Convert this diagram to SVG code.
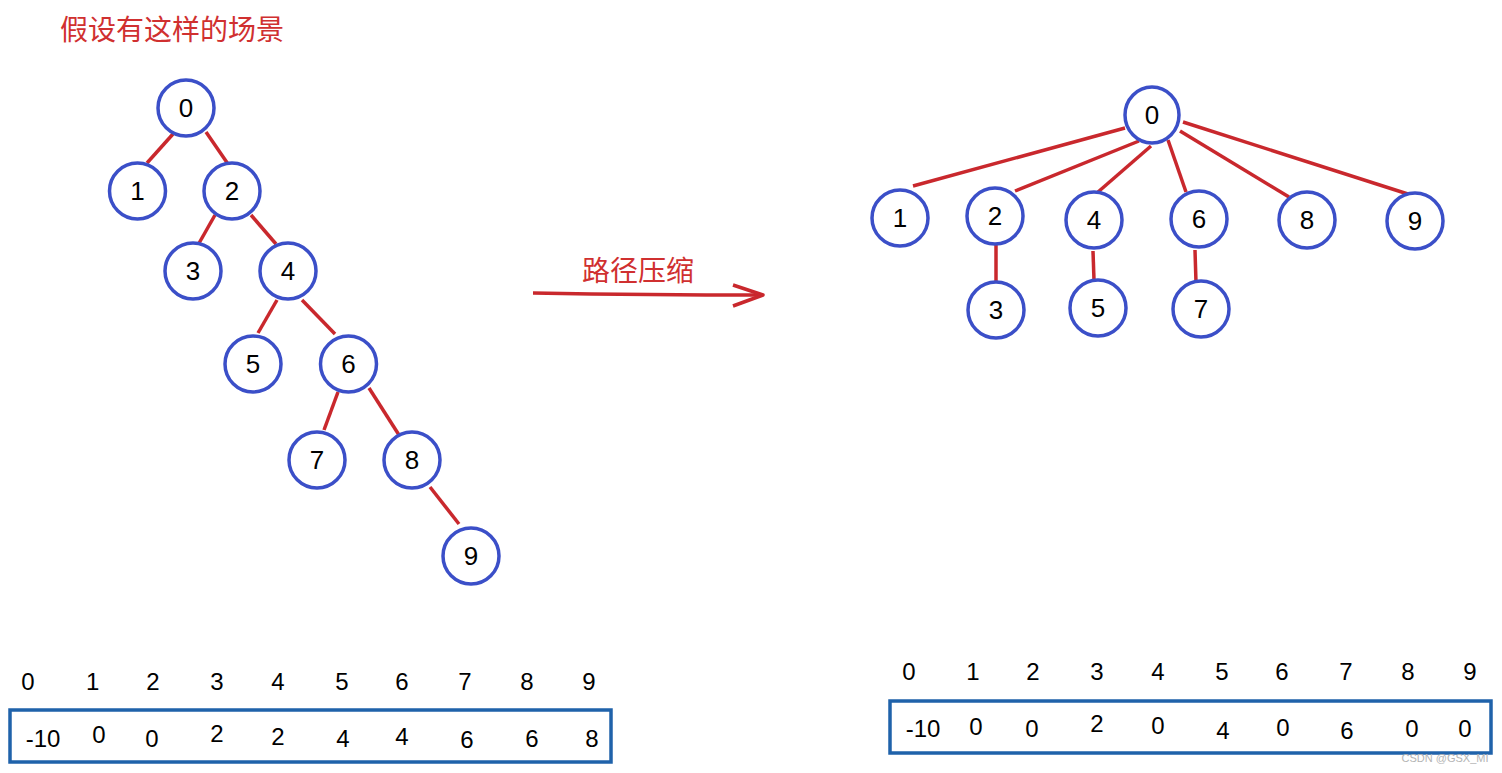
<svg xmlns="http://www.w3.org/2000/svg" width="1502" height="773" viewBox="0 0 1502 773">
<style>
.n{fill:#fff;stroke:#3B4FC8;stroke-width:3.5}
.e{stroke:#C9282D;stroke-width:3.5;stroke-linecap:butt;fill:none}
.t{font-family:"Liberation Sans",Arial,sans-serif;font-size:26px;fill:#000;text-anchor:middle}
.r{font-family:"Liberation Sans",Arial,sans-serif;font-size:24px;fill:#000;text-anchor:middle}
.cn{font-family:"Noto Sans CJK SC","Liberation Sans",sans-serif;font-size:28px;fill:#D03030}
.box{fill:none;stroke:#1F62AA;stroke-width:3.5}
</style>
<rect width="1502" height="773" fill="#fff"/>
<text class="cn" x="60" y="40">假设有这样的场景</text>
<g id="connectors">
<line class="e" x1="173" y1="134" x2="147" y2="163"/>
<line class="e" x1="206" y1="132" x2="228" y2="164"/>
<line class="e" x1="215" y1="215" x2="198" y2="245"/>
<line class="e" x1="251" y1="215" x2="276" y2="244"/>
<line class="e" x1="277" y1="300" x2="258" y2="333"/>
<line class="e" x1="302" y1="300" x2="335" y2="334"/>
<line class="e" x1="338" y1="392" x2="324" y2="430"/>
<line class="e" x1="369" y1="388" x2="399" y2="435"/>
<line class="e" x1="430" y1="487" x2="459" y2="524"/>
<line class="e" x1="1125" y1="128" x2="913" y2="186"/>
<line class="e" x1="1139" y1="141" x2="1015" y2="191"/>
<line class="e" x1="1151" y1="146" x2="1098" y2="192"/>
<line class="e" x1="1168" y1="140" x2="1186" y2="192"/>
<line class="e" x1="1180" y1="131" x2="1289" y2="197"/>
<line class="e" x1="1183" y1="122" x2="1411" y2="195"/>
<line class="e" x1="996" y1="242" x2="996" y2="281"/>
<line class="e" x1="1093" y1="251" x2="1094" y2="280"/>
<line class="e" x1="1195" y1="250" x2="1196" y2="282"/>
</g>
<g id="arrow">
<path class="e" d="M533 293 Q650 295 763 295"/>
<path class="e" d="M733 285 L763 295 L733 306" stroke-linejoin="round" stroke-linecap="round"/>
<text class="cn" x="582" y="281">路径压缩</text>
</g>
<g id="L0"><circle class="n" cx="186" cy="108" r="28"/><text class="t" x="186" y="117">0</text></g>
<g id="L1"><circle class="n" cx="137.5" cy="191" r="28"/><text class="t" x="137.5" y="200">1</text></g>
<g id="L2"><circle class="n" cx="232" cy="191" r="28"/><text class="t" x="232" y="200">2</text></g>
<g id="L3"><circle class="n" cx="193" cy="271" r="28"/><text class="t" x="193" y="280">3</text></g>
<g id="L4"><circle class="n" cx="288" cy="271" r="28"/><text class="t" x="288" y="280">4</text></g>
<g id="L5"><circle class="n" cx="253" cy="364" r="28"/><text class="t" x="253" y="373">5</text></g>
<g id="L6"><circle class="n" cx="348.5" cy="364" r="28"/><text class="t" x="348.5" y="373">6</text></g>
<g id="L7"><circle class="n" cx="317" cy="460" r="28"/><text class="t" x="317" y="469">7</text></g>
<g id="L8"><circle class="n" cx="412" cy="460" r="28"/><text class="t" x="412" y="469">8</text></g>
<g id="L9"><circle class="n" cx="471" cy="556" r="28"/><text class="t" x="471" y="565">9</text></g>
<g id="R0"><ellipse class="n" cx="1152" cy="115" rx="27" ry="28"/><text class="t" x="1152" y="124">0</text></g>
<g id="R1"><ellipse class="n" cx="900" cy="218" rx="28" ry="28"/><text class="t" x="900" y="227">1</text></g>
<g id="R2"><ellipse class="n" cx="995" cy="216" rx="28" ry="28"/><text class="t" x="995" y="225">2</text></g>
<g id="R4"><ellipse class="n" cx="1094" cy="220" rx="28" ry="28"/><text class="t" x="1094" y="229">4</text></g>
<g id="R6"><ellipse class="n" cx="1199" cy="219" rx="28" ry="28"/><text class="t" x="1199" y="228">6</text></g>
<g id="R8"><ellipse class="n" cx="1307" cy="220" rx="28" ry="28"/><text class="t" x="1307" y="229">8</text></g>
<g id="R9"><ellipse class="n" cx="1415" cy="221" rx="28" ry="28"/><text class="t" x="1415" y="230">9</text></g>
<g id="R3"><ellipse class="n" cx="996" cy="310" rx="28" ry="28"/><text class="t" x="996" y="319">3</text></g>
<g id="R5"><ellipse class="n" cx="1098" cy="308" rx="28" ry="28"/><text class="t" x="1098" y="317">5</text></g>
<g id="R7"><ellipse class="n" cx="1201" cy="309" rx="28" ry="28"/><text class="t" x="1201" y="318">7</text></g>
<g id="leftArray">
<text class="r" x="28" y="690">0</text><text class="r" x="92.7" y="690">1</text><text class="r" x="153" y="690">2</text><text class="r" x="217" y="690">3</text><text class="r" x="278" y="690">4</text>
<text class="r" x="342" y="690">5</text><text class="r" x="402" y="690">6</text><text class="r" x="465" y="690">7</text><text class="r" x="527" y="690">8</text><text class="r" x="589" y="690">9</text>
<rect class="box" x="10" y="710" width="601" height="52"/>
<text class="r" x="43" y="747">-10</text><text class="r" x="99" y="743">0</text><text class="r" x="152" y="747">0</text><text class="r" x="217" y="742">2</text><text class="r" x="278" y="745">2</text>
<text class="r" x="343" y="747">4</text><text class="r" x="402" y="745">4</text><text class="r" x="467" y="748">6</text><text class="r" x="532" y="747">6</text><text class="r" x="592" y="747">8</text>
</g>
<g id="rightArray">
<text class="r" x="909" y="680">0</text><text class="r" x="973" y="680">1</text><text class="r" x="1033" y="680">2</text><text class="r" x="1097" y="680">3</text><text class="r" x="1158" y="680">4</text>
<text class="r" x="1222" y="680">5</text><text class="r" x="1282" y="680">6</text><text class="r" x="1346" y="680">7</text><text class="r" x="1408" y="680">8</text><text class="r" x="1470" y="680">9</text>
<rect class="box" x="890" y="701" width="601" height="52"/>
<text class="r" x="923" y="737">-10</text><text class="r" x="976" y="735">0</text><text class="r" x="1032" y="737">0</text><text class="r" x="1097" y="732">2</text><text class="r" x="1158" y="734">0</text>
<text class="r" x="1223" y="739">4</text><text class="r" x="1283" y="736">0</text><text class="r" x="1347" y="739">6</text><text class="r" x="1412" y="737">0</text><text class="r" x="1465" y="737">0</text>
</g>
<text x="1445" y="762" font-family="'Liberation Sans',Arial,sans-serif" font-size="11" fill="#B4B4B4" text-anchor="middle">CSDN @GSX_MI</text>
</svg>
